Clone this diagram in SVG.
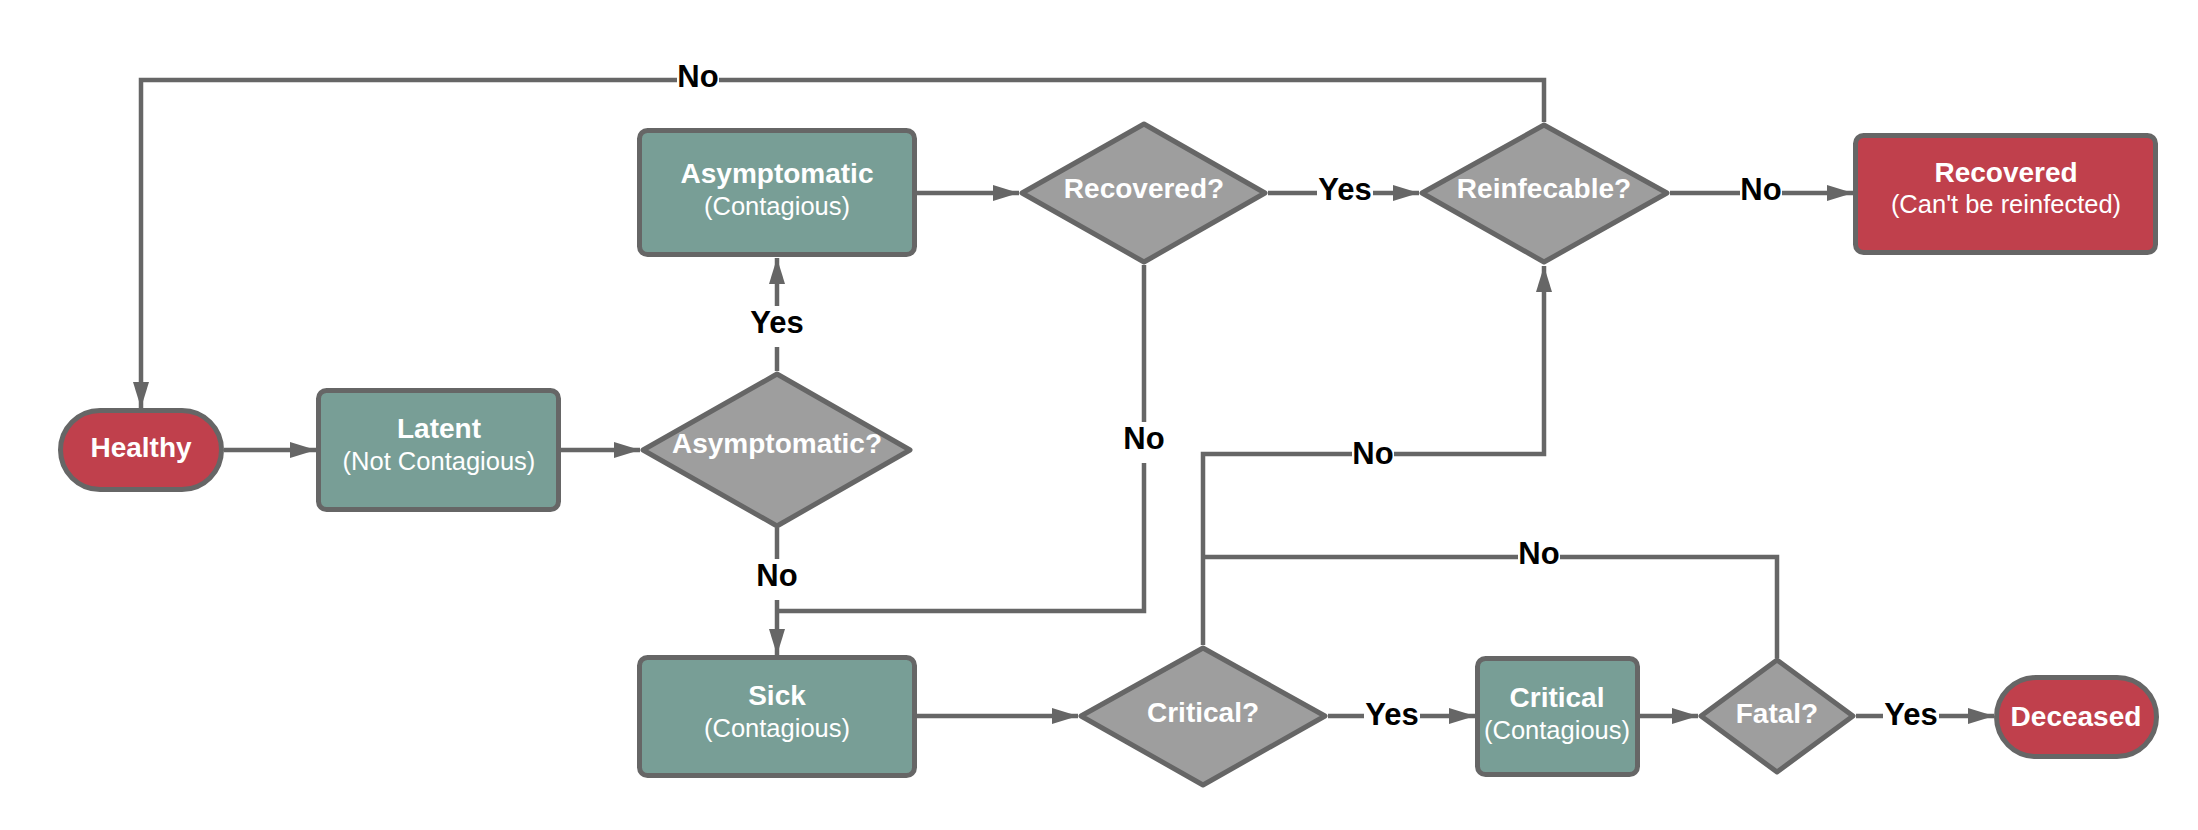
<svg xmlns="http://www.w3.org/2000/svg" width="2198" height="830" viewBox="0 0 2198 830">
<style>
.box{fill:#789E96;stroke:#666666;stroke-width:5}
.red{fill:#C0404C;stroke:#666666;stroke-width:5}
.dia{fill:#9E9E9E;stroke:#666666;stroke-width:5;stroke-linejoin:round}
.t{font-family:"Liberation Sans",Arial,sans-serif;fill:#FFFFFF;text-anchor:middle}
.b{font-weight:bold;font-size:28px}
.s{font-size:25.5px}
.c{fill:none;stroke:#666666;stroke-width:4.5}
.a{marker-end:url(#ah)}
.lb{fill:#FFFFFF}
.lt{font-family:"Liberation Sans",Arial,sans-serif;font-weight:bold;font-size:31px;fill:#000000;text-anchor:middle}
</style>
<defs>
<marker id="ah" markerUnits="userSpaceOnUse" viewBox="0 0 26 16" refX="26" refY="8" markerWidth="26" markerHeight="16" orient="auto">
<path d="M0,0 L26,8 L0,16 Z" fill="#666666"/>
</marker>
</defs>
<rect width="2198" height="830" fill="#FFFFFF"/>
<g id="connectors">
<path class="c a" d="M224,450 H316"/>
<path class="c a" d="M561,450 H640"/>
<path class="c a" d="M777,371 V258"/>
<path class="c a" d="M777,528 V655"/>
<path class="c a" d="M917,193 H1019"/>
<path class="c a" d="M1268,193 H1419"/>
<path class="c a" d="M1670,193 H1853"/>
<path class="c a" d="M1544,122 V80 H141 V408"/>
<path class="c" d="M1144,265 V611 H777"/>
<path class="c a" d="M917,716 H1078"/>
<path class="c a" d="M1328,716 H1475"/>
<path class="c a" d="M1203,645 V454 H1544 V266"/>
<path class="c a" d="M1640,716 H1698"/>
<path class="c" d="M1777,658 V557 H1203"/>
<path class="c a" d="M1856,716 H1994"/>
<g id="labels">
<rect class="lb" x="677" y="60" width="42" height="41"/><text class="lt" x="698" y="87">No</text>
<rect class="lb" x="749" y="306" width="56" height="41"/><text class="lt" x="777" y="333">Yes</text>
<rect class="lb" x="756" y="559" width="42" height="41"/><text class="lt" x="777" y="586">No</text>
<rect class="lb" x="1317" y="173" width="56" height="41"/><text class="lt" x="1345" y="200">Yes</text>
<rect class="lb" x="1740" y="173" width="42" height="41"/><text class="lt" x="1761" y="200">No</text>
<rect class="lb" x="1123" y="422" width="42" height="41"/><text class="lt" x="1144" y="449">No</text>
<rect class="lb" x="1352" y="437" width="42" height="41"/><text class="lt" x="1373" y="464">No</text>
<rect class="lb" x="1518" y="537" width="42" height="41"/><text class="lt" x="1539" y="564">No</text>
<rect class="lb" x="1364" y="698" width="56" height="41"/><text class="lt" x="1392" y="725">Yes</text>
<rect class="lb" x="1883" y="698" width="56" height="41"/><text class="lt" x="1911" y="725">Yes</text>
</g>
</g>
<g id="healthy">
<rect class="red" x="60.5" y="410.5" width="161" height="79" rx="39.5"/>
<text class="t b" x="141" y="457">Healthy</text>
</g>
<g id="latent">
<rect class="box" x="318.5" y="390.5" width="240" height="119" rx="8"/>
<text class="t b" x="439" y="438">Latent</text>
<text class="t s" x="439" y="470">(Not Contagious)</text>
</g>
<g id="asymptomatic-q">
<path class="dia" d="M777,374 L910,450 L777,526 L643,450 Z"/>
<text class="t b" x="777" y="453">Asymptomatic?</text>
</g>
<g id="asymptomatic">
<rect class="box" x="639.5" y="130.5" width="275" height="124" rx="8"/>
<text class="t b" x="777" y="183">Asymptomatic</text>
<text class="t s" x="777" y="215">(Contagious)</text>
</g>
<g id="sick">
<rect class="box" x="639.5" y="657.5" width="275" height="118" rx="8"/>
<text class="t b" x="777" y="705">Sick</text>
<text class="t s" x="777" y="737">(Contagious)</text>
</g>
<g id="recovered-q">
<path class="dia" d="M1144,124 L1265,193 L1144,262 L1022,193 Z"/>
<text class="t b" x="1144" y="198">Recovered?</text>
</g>
<g id="reinfecable-q">
<path class="dia" d="M1544,125 L1667,193 L1544,262 L1422,193 Z"/>
<text class="t b" x="1544" y="198">Reinfecable?</text>
</g>
<g id="recovered">
<rect class="red" x="1855.5" y="135.5" width="300" height="117" rx="8"/>
<text class="t b" x="2006" y="182">Recovered</text>
<text class="t s" x="2006" y="213">(Can't be reinfected)</text>
</g>
<g id="critical-q">
<path class="dia" d="M1203,648 L1325,716 L1203,785 L1081,716 Z"/>
<text class="t b" x="1203" y="722">Critical?</text>
</g>
<g id="critical">
<rect class="box" x="1477.5" y="658.5" width="160" height="116" rx="8"/>
<text class="t b" x="1557" y="707">Critical</text>
<text class="t s" x="1557" y="739">(Contagious)</text>
</g>
<g id="fatal-q">
<path class="dia" d="M1777,660 L1853,716 L1777,772 L1701,716 Z"/>
<text class="t b" x="1777" y="723">Fatal?</text>
</g>
<g id="deceased">
<rect class="red" x="1996.5" y="677.5" width="160" height="79" rx="39.5"/>
<text class="t b" x="2076" y="726">Deceased</text>
</g>
</svg>
